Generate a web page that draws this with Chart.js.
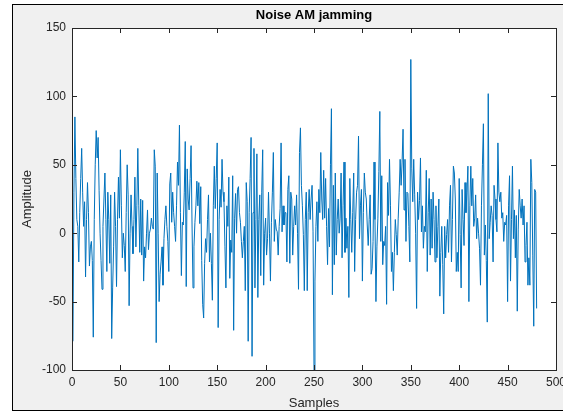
<!DOCTYPE html>
<html>
<head>
<meta charset="utf-8">
<title>Noise AM jamming</title>
<script src="https://cdn.jsdelivr.net/npm/chart.js@4.4.1/dist/chart.umd.min.js"></script>
<style>
  html, body { margin: 0; padding: 0; background: #ffffff; }
  #wrap { width: 563px; height: 414px; position: relative; }
</style>
</head>
<body>
<div id="wrap"><canvas id="noiseChart" width="563" height="414"></canvas></div>
<script>
// noise AM jamming signal, 480 samples (x = 1..480)
const amplitude = [
  -79, 30, 85, 40, 10, 5, -21, 15, 40, 62, 30, 5, 23, -32, 10, 37, 15, -24, -10, -6,
  -20, -76, 10, 50, 75, 55, 70, 31, 0, -20, -41, 5, 25, 44, 10, -28, 30, 10, -22, 28,
  -77, -40, -10, 30, 5, -39, 10, 41, 11, 61, 20, -18, 0, -9, -28, 15, 50, 28, -53, 0,
  28, 5, -15, 10, 41, -10, 20, 62, 20, -14, 25, -16, 24, -35, -10, -18, 0, 17, -12, 0,
  3, 11, 5, 3, 61, 49, -80, 44, 0, -50, -30, -21, -10, -38, -4, 10, 20, 5, -6, -28,
  36, 44, 8, 30, 15, 5, -6, 20, 52, 35, 79, 15, -31, 8, 6, 30, 67, -39, 47, 25,
  17, 40, 64, 6, -40, -10, 8, 20, 38, 20, 37, 7, 34, -20, -52, -62, -22, -4, -14, 10,
  28, -21, 0, -22, -49, 20, 49, 18, 40, 66, -69, 10, 32, 19, 54, 30, 23, -10, -40, 20,
  5, 41, -33, -5, -14, 42, -71, 11, 29, 0, 32, 34, 15, 8, -6, -18, -6, 5, -42, 37,
  23, -79, 15, 40, 70, -90, 15, 62, -40, 10, 58, -47, 10, 28, -31, 30, 61, -38, 0, 11,
  -16, -4, 30, 0, -35, 8, 30, 59, -6, 10, 3, 1, -16, 5, 18, 66, 1, 20, 6, 15,
  15, -21, 32, 42, -22, 30, 25, -16, 5, 20, 6, 28, 0, -41, 59, 77, 35, 20, -1, -42,
  10, 30, -42, 15, 32, 10, 25, 35, 1, -100, -35, 5, 23, -6, 32, 15, 59, 25, 10, 46,
  11, 40, 5, -23, 18, -10, 50, 91, -45, 35, -23, 44, -16, 10, 25, 0, 11, 44, -18, 20,
  52, -14, 11, -11, 5, -47, 40, 10, -14, 15, 44, -28, 10, 30, 35, 71, -4, 20, 32, -35,
  15, 44, 30, 25, 6, -9, 10, 28, -30, -26, -6, 52, 10, -50, -10, 11, 45, 89, -6, 42,
  -23, -6, -9, 5, -52, 37, 13, 54, 20, -28, -14, -42, -14, 10, -1, -16, 11, 30, 54, 35,
  52, 76, 17, 54, -6, 30, 29, 5, -21, 127, 47, 23, 54, 28, 0, -55, 30, 10, 24, 55,
  1, 20, -11, 5, 1, 46, -28, 15, 40, -16, 25, -11, 30, 10, -21, 20, -18, 5, 25, -46,
  -14, 5, -23, -59, 5, -18, -1, 10, -14, 20, 35, -21, 10, 49, 44, 25, -28, -14, -28, 40,
  -1, -40, 32, 10, -9, 37, 15, 30, 49, -50, 20, 49, 20, 40, 5, 11, 28, -4, 11, 0,
  -11, -38, 20, 50, 80, -16, 6, -20, -65, 102, -4, 8, 20, 13, -21, 35, 25, 10, 1, 66,
  30, 23, 30, 11, 15, -6, 8, 6, 13, -50, 20, 42, -35, 10, 49, -4, 17, -18, 13, -57,
  3, 32, 20, 11, 25, 6, 20, -21, -9, 8, -38, -18, -38, 54, 37, -16, -68, 32, 30, -55
];
const samples = amplitude.map((v, i) => i + 1);
const xTicks = [0, 50, 100, 150, 200, 250, 300, 350, 400, 450, 500];
const yTicks = [-100, -50, 0, 50, 100, 150];

const axisColor = '#262626';
const fontFamily = '"Liberation Sans", Arial, Helvetica, sans-serif';

// figure frame, axes box, inward ticks and labels (MATLAB-like look)
const figureFrame = {
    id: 'figureFrame',
    beforeDraw(chart) {
        const ctx = chart.ctx;
        const a = chart.chartArea;
        ctx.save();
        ctx.fillStyle = '#ffffff';
        ctx.fillRect(0, 0, chart.width, chart.height);
        ctx.fillStyle = '#f0f0f0';
        ctx.fillRect(12, 4, chart.width - 12, 407);
        ctx.strokeStyle = '#000000';
        ctx.lineWidth = 1;
        ctx.strokeRect(12.5, 4.5, chart.width, 406);
        ctx.fillStyle = '#ffffff';
        ctx.fillRect(a.left, a.top, a.right - a.left, a.bottom - a.top);
        ctx.restore();
    },
    afterDraw(chart) {
        const ctx = chart.ctx;
        const a = chart.chartArea;
        const xs = chart.scales.x, ys = chart.scales.y;
        ctx.save();
        ctx.strokeStyle = axisColor;
        ctx.lineWidth = 1;
        ctx.strokeRect(Math.round(a.left) + 0.5, Math.round(a.top) + 0.5,
            Math.round(a.right - a.left), Math.round(a.bottom - a.top));
        ctx.beginPath();
        xTicks.forEach(v => {
            const px = Math.round(xs.getPixelForValue(v)) + 0.5;
            ctx.moveTo(px, a.bottom); ctx.lineTo(px, a.bottom - 5);
            ctx.moveTo(px, a.top); ctx.lineTo(px, a.top + 5);
        });
        yTicks.forEach(v => {
            const py = Math.round(ys.getPixelForValue(v)) + 0.5;
            ctx.moveTo(a.left, py); ctx.lineTo(a.left + 5, py);
            ctx.moveTo(a.right, py); ctx.lineTo(a.right - 5, py);
        });
        ctx.stroke();

        // title and axis labels
        const cx = (a.left + a.right) / 2;
        ctx.fillStyle = '#000000';
        ctx.font = 'bold 13px ' + fontFamily;
        ctx.textAlign = 'center';
        ctx.textBaseline = 'middle';
        ctx.fillText('Noise AM jamming', cx, 15);
        ctx.fillStyle = axisColor;
        ctx.font = '13px ' + fontFamily;
        ctx.fillText('Samples', cx, 403);
        ctx.translate(27, (a.top + a.bottom) / 2);
        ctx.rotate(-Math.PI / 2);
        ctx.fillText('Amplitude', 0, 0);
        ctx.restore();
    }
};

new Chart(document.getElementById('noiseChart'), {
    type: 'line',
    data: {
        labels: samples,
        datasets: [{
            data: amplitude,
            borderColor: '#0072BD',
            borderWidth: 1,
            pointRadius: 0,
            tension: 0,
            fill: false
        }]
    },
    options: {
        responsive: false,
        animation: false,
        events: [],
        layout: { padding: { top: 28, right: 7, left: 0, bottom: 0 } },
        plugins: { legend: { display: false }, tooltip: { enabled: false }, title: { display: false } },
        scales: {
            x: {
                type: 'linear',
                min: 0,
                max: 500,
                afterBuildTicks(scale) { scale.ticks = xTicks.map(v => ({ value: v })); },
                afterFit(scale) { scale.height = 44; scale.paddingLeft = 0; scale.paddingRight = 0; },
                grid: { display: false, drawTicks: false, tickLength: 0 },
                border: { display: false },
                ticks: { color: axisColor, font: { family: fontFamily, size: 12 }, padding: 5, maxRotation: 0, autoSkip: false }
            },
            y: {
                min: -100,
                max: 150,
                afterBuildTicks(scale) { scale.ticks = yTicks.map(v => ({ value: v })); },
                afterFit(scale) { scale.width = 72; scale.paddingTop = 0; scale.paddingBottom = 0; },
                grid: { display: false, drawTicks: false, tickLength: 0 },
                border: { display: false },
                ticks: { color: axisColor, font: { family: fontFamily, size: 12 }, padding: 6, autoSkip: false }
            }
        }
    },
    plugins: [figureFrame]
});
</script>
</body>
</html>
